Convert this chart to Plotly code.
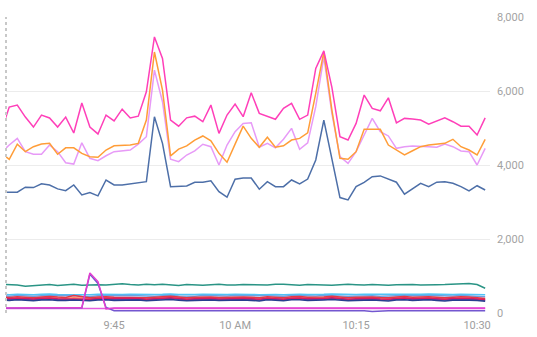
import pandas as pd
import plotly.graph_objects as go

# one sample per minute, 09:31 .. 10:31
times = pd.date_range("2024-05-14 09:31", periods=61, freq="min")

pink = [4900, 5565, 5620, 5295, 5025, 5350, 5270, 5025, 5295, 4865,
        5675, 5025, 4840, 5350, 5190, 5510, 5270, 5320, 5980, 7460,
        6880, 5215, 5050, 5275, 5320, 5170, 5620, 4855, 5350, 5645,
        5305, 5950, 5395, 5320, 5235, 5530, 5665, 5235, 5350, 6610,
        7085, 6100, 4765, 4675, 5125, 5890, 5530, 5465, 5815, 5140,
        5260, 5240, 5215, 5105, 5185, 5275, 5170, 5050, 5050, 4810,
        5275]
orange = [4330, 4155, 4565, 4360, 4495, 4565, 4585, 4290, 4465, 4465,
          4315, 4225, 4210, 4405, 4520, 4520, 4540, 4585, 5215, 7055,
          6025, 4245, 4430, 4515, 4675, 4785, 4655, 4315, 4075, 4565,
          5050, 4720, 4480, 4750, 4480, 4520, 4675, 4720, 4870, 5935,
          7055, 5485, 4180, 4155, 4360, 4965, 4965, 4965, 4540, 4405,
          4270, 4385, 4495, 4540, 4565, 4585, 4695, 4495, 4405, 4270,
          4695]
violet = [4330, 4540, 4720, 4360, 4290, 4290, 4540, 4360, 4060, 4025,
          4600, 4180, 4115, 4250, 4360, 4385, 4405, 4565, 4765, 6565,
          5710, 4155, 4090, 4270, 4380, 4560, 4495, 4000, 4540, 4900,
          5125, 5140, 4480, 4585, 4465, 4695, 4990, 4425, 4600, 5575,
          6920, 5395, 4225, 4045, 4360, 4810, 5260, 4900, 4785, 4450,
          4495, 4515, 4495, 4495, 4480, 4565, 4495, 4380, 4360, 4000,
          4450]
steel = [3260, 3265, 3265, 3400, 3390, 3490, 3460, 3355, 3305, 3460,
         3190, 3255, 3165, 3595, 3460, 3460, 3485, 3505, 3550, 5305,
         4585, 3415, 3415, 3435, 3535, 3535, 3575, 3280, 3130, 3615,
         3650, 3650, 3345, 3550, 3415, 3415, 3595, 3490, 3620, 4135,
         5215, 4180, 3120, 3055, 3415, 3530, 3685, 3705, 3615, 3535,
         3210, 3370, 3505, 3415, 3535, 3550, 3505, 3415, 3300, 3440,
         3325]
teal = [780, 770, 755, 725, 745, 760, 770, 745, 760, 775,
        750, 760, 765, 755, 770, 790, 770, 760, 780, 765,
        775, 760, 745, 770, 760, 750, 765, 775, 760, 755,
        770, 765, 750, 760, 775, 780, 765, 750, 770, 775,
        760, 750, 770, 775, 765, 755, 770, 760, 750, 765,
        775, 770, 760, 755, 765, 770, 780, 790, 800, 770,
        670]
cyan = [505, 495, 510, 500, 490, 505, 515, 500, 495, 505,
        500, 490, 510, 505, 495, 500, 510, 505, 495, 500,
        505, 515, 500, 490, 500, 510, 505, 495, 500, 505,
        510, 500, 495, 505, 500, 490, 505, 510, 500, 495,
        505, 515, 505, 495, 500, 510, 505, 500, 495, 505,
        510, 500, 505, 515, 505, 495, 500, 510, 505, 500,
        490]
sky = [465, 455, 470, 460, 450, 465, 470, 455, 460, 470,
       455, 445, 465, 470, 455, 460, 470, 465, 450, 455,
       465, 475, 460, 450, 455, 470, 465, 455, 460, 470,
       465, 455, 450, 465, 460, 450, 470, 465, 455, 460,
       470, 475, 460, 450, 460, 470, 465, 455, 450, 465,
       470, 460, 465, 470, 460, 450, 460, 470, 465, 455,
       440]
red = [430, 420, 440, 425, 415, 435, 445, 430, 420, 470,
       440, 415, 430, 440, 425, 420, 435, 430, 415, 425,
       440, 450, 430, 415, 425, 440, 435, 420, 430, 440,
       435, 425, 415, 440, 430, 415, 440, 445, 425, 420,
       435, 450, 430, 415, 425, 440, 435, 420, 410, 430,
       445, 425, 435, 440, 425, 410, 425, 440, 430, 420,
       390]
salmon = [410, 400, 415, 405, 395, 415, 420, 405, 400, 415,
          405, 395, 410, 420, 400, 405, 415, 410, 395, 405,
          420, 430, 410, 395, 405, 415, 410, 400, 405, 415,
          410, 400, 395, 415, 405, 395, 415, 420, 405, 400,
          410, 425, 405, 395, 405, 415, 410, 400, 390, 410,
          420, 400, 410, 415, 400, 390, 405, 415, 405, 400,
          380]
crimson = [395, 385, 400, 390, 380, 400, 405, 385, 380, 395,
           390, 375, 395, 400, 385, 390, 400, 395, 375, 385,
           405, 410, 390, 375, 385, 400, 395, 380, 390, 400,
           395, 385, 375, 400, 390, 375, 400, 405, 385, 380,
           395, 410, 390, 375, 385, 400, 395, 380, 370, 395,
           405, 385, 395, 400, 385, 370, 390, 400, 390, 380,
           360]
indigo = [375, 365, 380, 370, 355, 375, 385, 365, 360, 375,
          370, 355, 375, 380, 360, 370, 380, 375, 355, 365,
          385, 390, 370, 355, 365, 380, 375, 360, 370, 380,
          375, 365, 350, 380, 370, 355, 380, 385, 365, 360,
          375, 390, 370, 355, 365, 380, 375, 360, 350, 375,
          385, 365, 375, 380, 365, 350, 370, 380, 370, 360,
          340]
navy = [350, 340, 355, 345, 330, 350, 360, 340, 335, 350,
        345, 330, 350, 355, 335, 345, 355, 350, 330, 340,
        360, 365, 345, 330, 340, 355, 350, 335, 345, 355,
        350, 340, 325, 355, 345, 330, 355, 360, 340, 335,
        350, 365, 345, 330, 340, 355, 350, 335, 325, 350,
        360, 340, 350, 355, 340, 325, 345, 355, 345, 335,
        320]
magenta_flat = [120, 120, 118, 120, 122, 120, 118, 120, 120, 122,
                120, 120, 118, 120, 120, 122, 120, 118, 120, 120,
                122, 120, 120, 118, 120, 120, 122, 120, 118, 120,
                120, 122, 120, 120, 118, 120, 120, 122, 120, 118,
                120, 120, 122, 120, 120, 118, 120, 120, 122, 120,
                118, 120, 120, 122, 120, 120, 118, 120, 120, 122,
                120]
magenta_spike = [135, 135, 133, 135, 136, 135, 133, 135, 135, 136,
                 150, 1080, 850, 110, 135, 135, 133, 135, 136, 135,
                 133, 135, 135, 136, 135, 133, 135, 135, 136, 135,
                 133, 135, 135, 136, 135, 133, 135, 135, 136, 135,
                 133, 135, 135, 136, 135, 133, 135, 135, 136, 135,
                 133, 135, 135, 136, 135, 133, 135, 135, 136, 135,
                 135]
purple_spike = [125, 125, 124, 126, 125, 124, 125, 126, 125, 124,
                140, 1050, 800, 150, 60, 62, 58, 60, 62, 60,
                58, 60, 62, 60, 58, 60, 62, 60, 58, 60,
                62, 60, 58, 60, 62, 60, 58, 60, 62, 60,
                58, 60, 62, 60, 58, 60, 40, 60, 62, 60,
                58, 60, 62, 60, 58, 60, 62, 60, 58, 60,
                60]

series = [
    ("teal", teal, "#2a9485"),
    ("cyan", cyan, "#4fc3f7"),
    ("sky", sky, "#6f9fe0"),
    ("salmon", salmon, "#ff8a65"),
    ("red", red, "#e53945"),
    ("indigo", indigo, "#3f51b5"),
    ("crimson", crimson, "#d81b60"),
    ("navy", navy, "#283f8f"),
    ("magenta_flat", magenta_flat, "#e55be0"),
    ("purple_spike", purple_spike, "#7357d0"),
    ("magenta_spike", magenta_spike, "#e23fcf"),
    ("steel", steel, "#4d6fa8"),
    ("violet", violet, "#e79af7"),
    ("orange", orange, "#ff9d38"),
    ("pink", pink, "#ff3fb9"),
]

fig = go.Figure()
for name, vals, color in series:
    fig.add_trace(go.Scatter(
        x=times, y=vals, mode="lines", name=name,
        line=dict(color=color, width=1.5),
        hoverinfo="skip",
    ))

tick_times = ["2024-05-14 09:45", "2024-05-14 10:00",
              "2024-05-14 10:15", "2024-05-14 10:30"]
tick_text = ["9:45", "10 AM", "10:15", "10:30"]

fig.update_layout(
    width=537, height=337,
    margin=dict(l=6, r=47, t=17, b=24, autoexpand=False),
    paper_bgcolor="white", plot_bgcolor="white",
    showlegend=False,
    font=dict(family="Roboto, Arial, sans-serif", size=11, color="#9e9e9e"),
    xaxis=dict(
        type="date", automargin=False,
        range=["2024-05-14 09:31:36", "2024-05-14 10:31:36"],
        tickvals=tick_times, ticktext=tick_text,
        showgrid=False, zeroline=False, showline=False,
        ticks="", ticklabelstandoff=4,
        tickfont=dict(size=11, color="#9e9e9e"),
    ),
    yaxis=dict(
        side="right", range=[0, 8000], automargin=False,
        tickvals=[0, 2000, 4000, 6000, 8000], tickformat=",",
        showgrid=True, gridcolor="#ececec", gridwidth=1.3,
        zeroline=False, showline=False, ticks="",
        ticklabelstandoff=6,
        tickfont=dict(size=11, color="#a3a3a3"),
    ),
    shapes=[dict(
        type="line", xref="paper", yref="paper",
        x0=0, x1=0, y0=0, y1=1,
        line=dict(color="#c8c8c8", width=2, dash="3px,3px"),
    )],
)

fig.write_html("out.html")
